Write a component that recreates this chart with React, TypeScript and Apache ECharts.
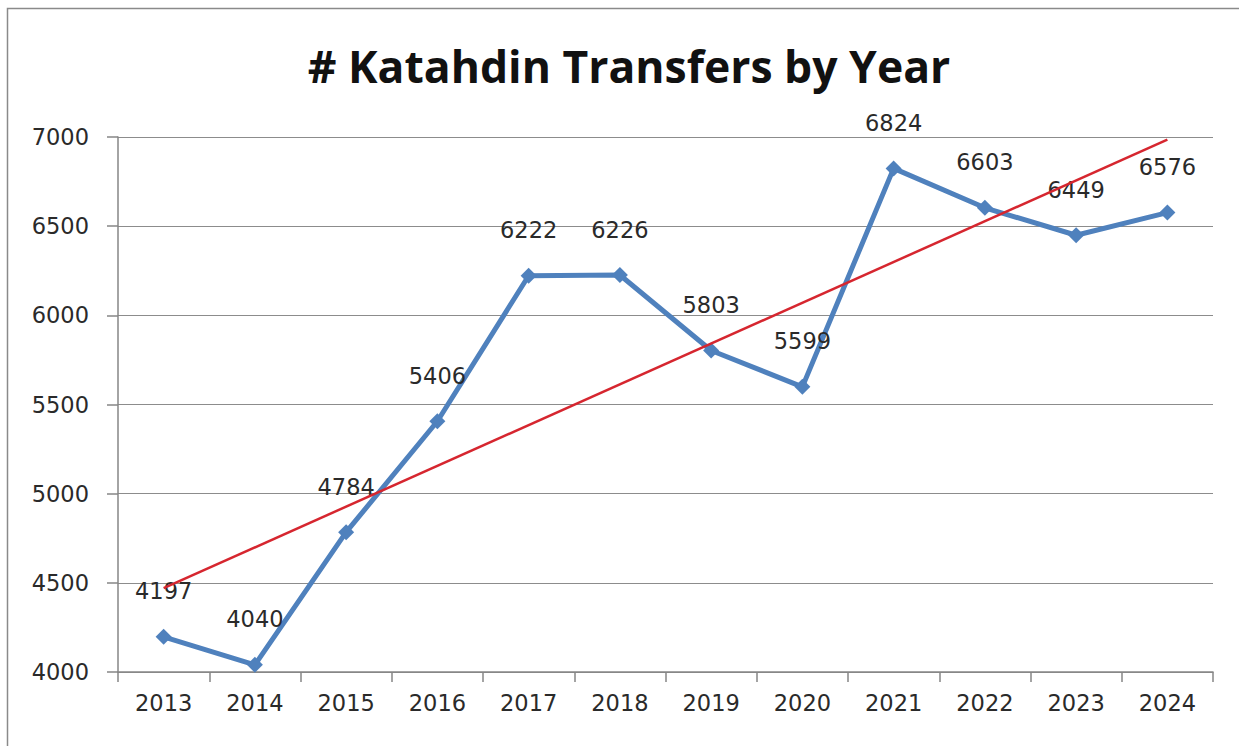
import React, { useEffect, useRef } from "react";
import * as echarts from "echarts";

const title = "# Katahdin Transfers by Year";
const years = ["2013", "2014", "2015", "2016", "2017", "2018", "2019", "2020", "2021", "2022", "2023", "2024"];
const transfers = [4197, 4040, 4784, 5406, 6222, 6226, 5803, 5599, 6824, 6603, 6449, 6576];
const trendStart = 4470;
const trendEnd = 6985;
const yTicks = { min: 4000, max: 7000, interval: 500 };

export default function App() {
  const ref = useRef<HTMLDivElement>(null);
  useEffect(() => {
    document.body.style.margin = "0";
    const chart = echarts.init(ref.current!, null, { renderer: "svg" });
    const font = "DejaVu Sans";
    chart.setOption({
      animation: false,
      backgroundColor: "#ffffff",
      title: {
        text: title,
        left: 624,
        textAlign: "center",
        top: 38,
        textStyle: { fontFamily: "Open Sans", fontWeight: "bold", fontSize: 44.5, color: "#111" },
      },
      graphic: [
        {
          type: "rect",
          shape: { x: 7.5, y: 8.5, width: 1260, height: 760 },
          style: { fill: "none", stroke: "#8a8a8a", lineWidth: 1.5 },
          silent: true,
        },
      ],
      grid: { left: 118, right: 26, top: 137, bottom: 74, containLabel: false },
      xAxis: {
        type: "category",
        data: years,
        boundaryGap: true,
        axisLine: { lineStyle: { color: "#868686", width: 1.5 } },
        axisTick: { show: true, length: 10, interval: 0, lineStyle: { color: "#868686", width: 1.5 } },
        axisLabel: { fontFamily: font, fontSize: 22.5, color: "#2a2a2a", margin: 19 },
      },
      yAxis: {
        type: "value",
        min: yTicks.min,
        max: yTicks.max,
        interval: yTicks.interval,
        axisLine: { show: true, lineStyle: { color: "#868686", width: 1.5 } },
        axisTick: { show: true, length: 11, lineStyle: { color: "#868686", width: 1.5 } },
        splitLine: { lineStyle: { color: "#8c8c8c", width: 1.2 } },
        axisLabel: {
          fontFamily: font,
          fontSize: 22.5,
          color: "#2a2a2a",
          margin: 29,
          formatter: (v: number) => String(v),
        },
      },
      series: [
        {
          type: "line",
          data: transfers,
          lineStyle: { color: "#4F81BD", width: 5 },
          itemStyle: { color: "#4F81BD" },
          symbol: "diamond",
          symbolSize: 16,
          label: {
            show: true,
            position: "top",
            distance: 26,
            fontFamily: font,
            fontSize: 22.5,
            color: "#2a2a2a",
          },
          z: 2,
        },
        {
          type: "line",
          data: [
            [0, trendStart],
            [years.length - 1, trendEnd],
          ],
          symbol: "none",
          lineStyle: { color: "#D6262F", width: 2.5 },
          z: 3,
        },
      ],
    });
    return () => chart.dispose();
  }, []);
  return <div ref={ref} style={{ width: 1239, height: 746 }} />;
}
